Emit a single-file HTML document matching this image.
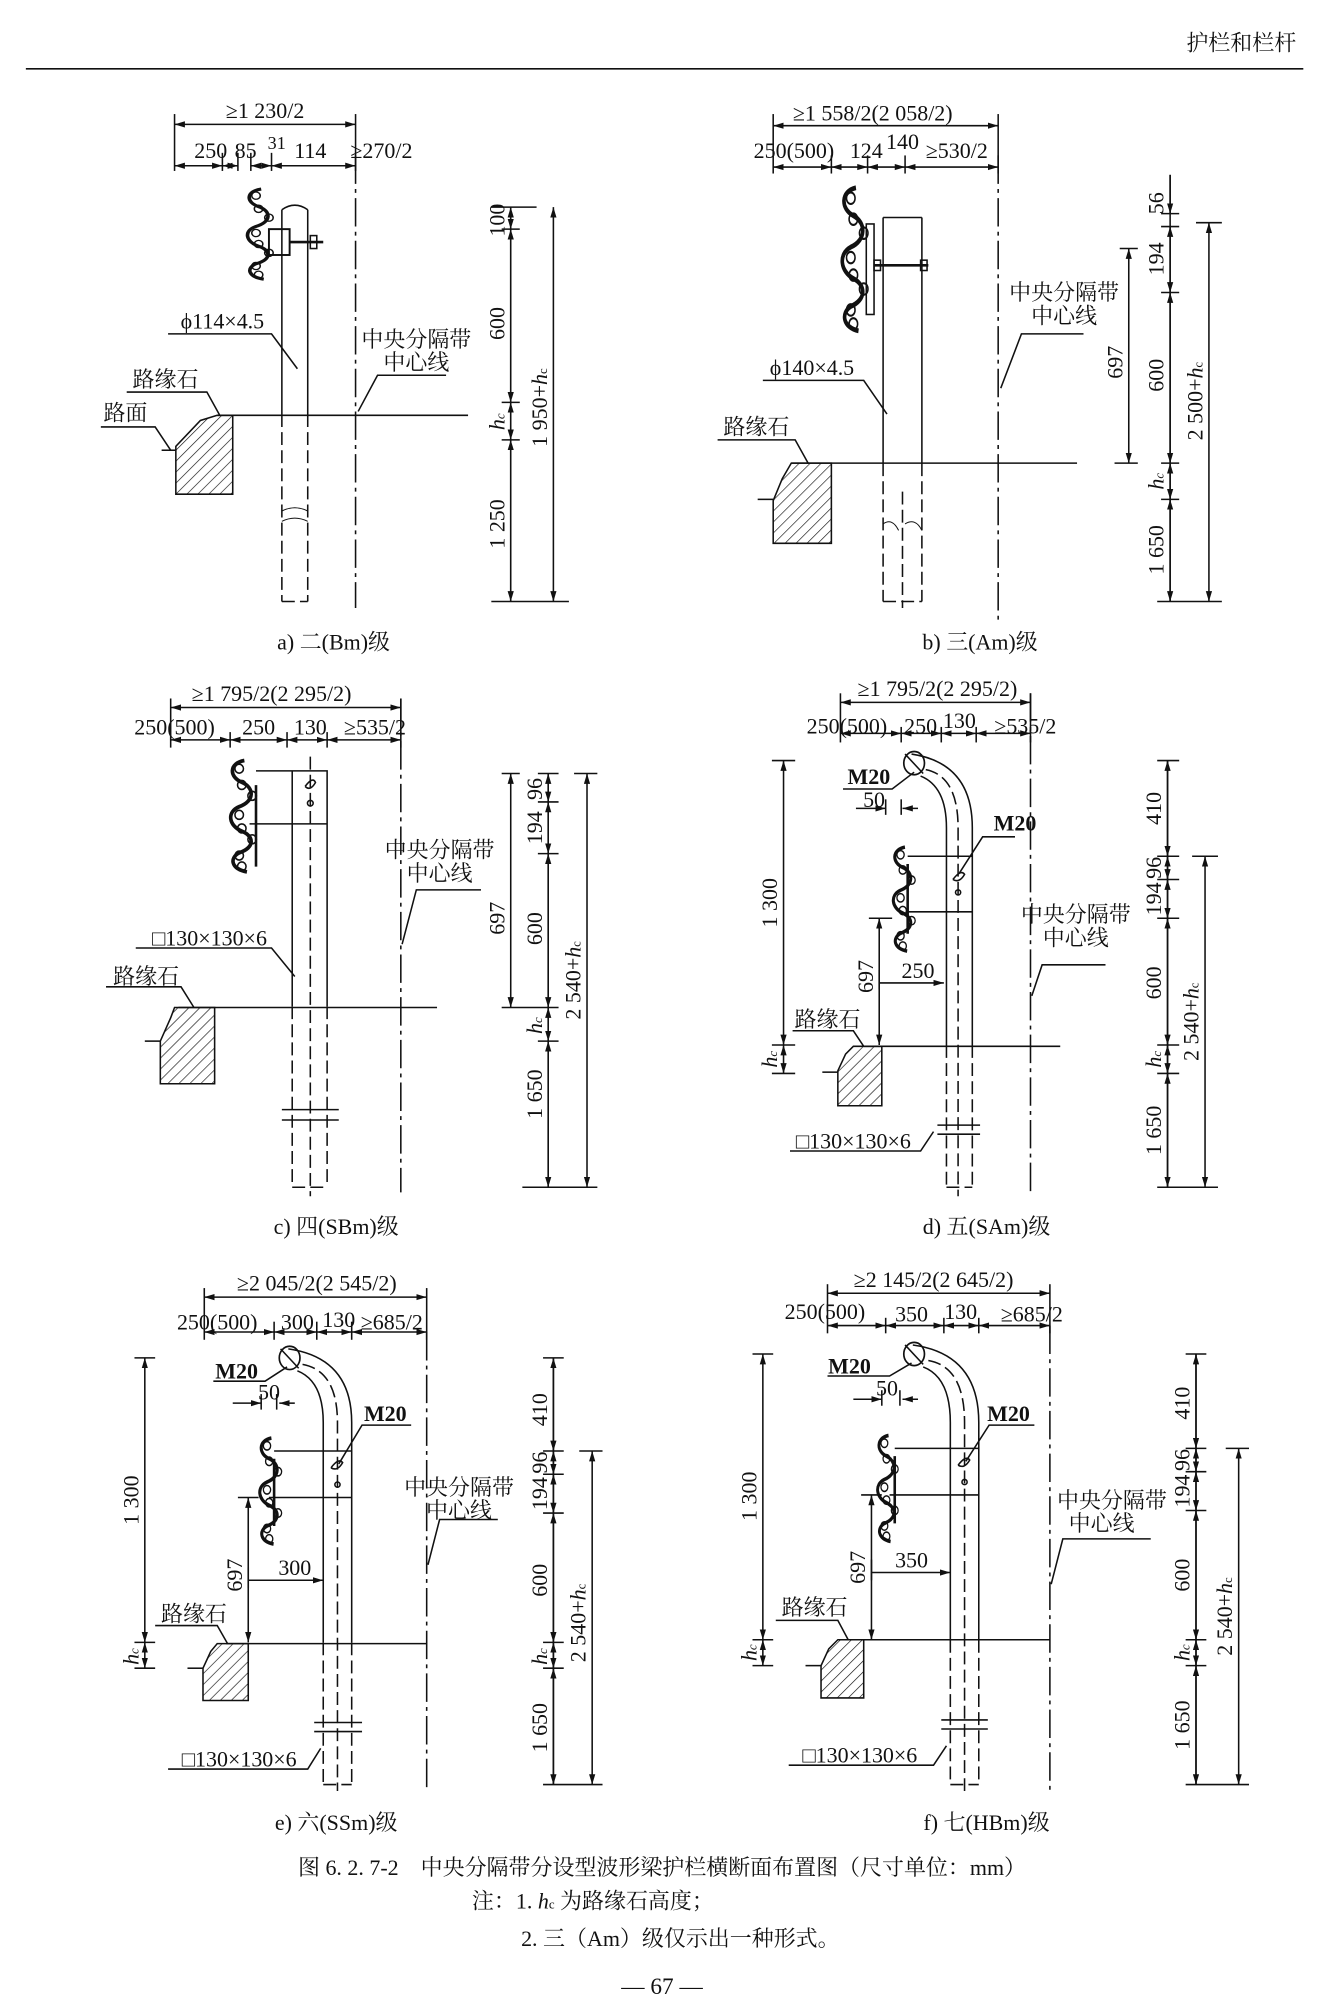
<!DOCTYPE html>
<html><head><meta charset="utf-8"><style>
html,body{margin:0;padding:0;background:#fff}
svg{display:block}
text{font-family:"Liberation Serif","Noto Serif CJK SC","Noto Sans CJK SC",serif;fill:#111}
g{stroke-width:1.2}
</style></head><body>
<svg width="1324" height="2015" viewBox="0 0 1024 1558" xmlns="http://www.w3.org/2000/svg">
<defs>
<marker id="ar" viewBox="0 0 10 6" refX="10" refY="3" markerWidth="8" markerHeight="5" orient="auto-start-reverse" markerUnits="userSpaceOnUse"><path d="M0,0 L10,3 L0,6 Z" fill="#111"/></marker>
<pattern id="hat" width="6" height="6" patternUnits="userSpaceOnUse" patternTransform="rotate(45)"><line x1="0" y1="0" x2="0" y2="6" stroke="#111" stroke-width="1"/></pattern>
<g id="beam">
<path d="M14,0 C2,2 2,12 12,16 C22,20 22,30 10,34 C0,38 2,48 12,52 C22,56 22,64 10,68 C2,72 4,80 16,82" fill="none" stroke="#111" stroke-width="2.8"/>
<circle cx="10" cy="6" r="3.3" fill="none" stroke="#111"/><circle cx="12" cy="18" r="3.3" fill="none" stroke="#111"/><circle cx="20" cy="26" r="3.3" fill="none" stroke="#111"/>
<circle cx="10" cy="40" r="3.3" fill="none" stroke="#111"/><circle cx="12" cy="50" r="3.3" fill="none" stroke="#111"/><circle cx="20" cy="58" r="3.3" fill="none" stroke="#111"/>
<circle cx="10" cy="70" r="3.3" fill="none" stroke="#111"/><circle cx="12" cy="78" r="3.3" fill="none" stroke="#111"/>
</g>
</defs>
<g stroke="#111" fill="none">
<line x1="20" y1="53" x2="1008" y2="53"/>
</g>
<text x="960" y="39" font-size="17" text-anchor="middle" fill="#333">护栏和栏杆</text>

<!-- ========== a ========== -->
<g stroke="#111" fill="none">
<line x1="135" y1="88" x2="135" y2="132"/><line x1="172" y1="118" x2="172" y2="132"/><line x1="184" y1="118" x2="184" y2="132"/><line x1="194" y1="118" x2="194" y2="132"/><line x1="210" y1="118" x2="210" y2="132"/><line x1="275" y1="88" x2="275" y2="132"/>
<line x1="135" y1="96" x2="275" y2="96" marker-start="url(#ar)" marker-end="url(#ar)"/>
<line x1="135" y1="128" x2="172" y2="128" marker-start="url(#ar)" marker-end="url(#ar)"/>
<line x1="172" y1="128" x2="184" y2="128" marker-start="url(#ar)" marker-end="url(#ar)"/>
<line x1="194" y1="128" x2="210" y2="128" marker-start="url(#ar)" marker-end="url(#ar)"/>
<line x1="210" y1="128" x2="275" y2="128" marker-start="url(#ar)" marker-end="url(#ar)"/>
<path d="M218,162 L218,320 M238,162 L238,320"/>
<path d="M218,162 Q228,155 238,162" />
<path d="M218,320 L218,465 M238,320 L238,465 M218,465 L238,465" stroke-dasharray="10,4"/>
<path d="M218,395 Q228,390 238,395 M218,403 Q228,398 238,403" stroke-width="0.8"/>
<line x1="275" y1="120" x2="275" y2="470" stroke-dasharray="22,4,3,4"/>
<line x1="168" y1="321" x2="362" y2="321"/>
<rect x="208" y="177" width="16" height="20" stroke-width="1.5"/>
<line x1="224" y1="187" x2="250" y2="187" stroke-width="2"/>
<rect x="240" y="182" width="5" height="10"/>
<path d="M168,321 L180,321 L180,382 L136,382 L136,345 L155,325 Z" fill="url(#hat)"/>
<line x1="125" y1="348" x2="136" y2="348"/>
<path d="M98,303 L160,303 L170,321"/>
<path d="M78,330 L120,330 L132,348"/>
<path d="M130,258 L210,258 L230,285"/>
<path d="M277,318 L292,290 L345,290"/>
<line x1="395" y1="160" x2="395" y2="465"/>
<line x1="380" y1="160" x2="415" y2="160"/><line x1="380" y1="465" x2="440" y2="465"/>
<line x1="388" y1="177" x2="402" y2="177"/><line x1="388" y1="311" x2="402" y2="311"/><line x1="388" y1="340" x2="402" y2="340"/>
<line x1="395" y1="160" x2="395" y2="177" marker-start="url(#ar)" marker-end="url(#ar)"/>
<line x1="395" y1="177" x2="395" y2="311" marker-start="url(#ar)" marker-end="url(#ar)"/>
<line x1="395" y1="311" x2="395" y2="340" marker-start="url(#ar)" marker-end="url(#ar)"/>
<line x1="395" y1="340" x2="395" y2="465" marker-start="url(#ar)" marker-end="url(#ar)"/>
<line x1="428" y1="160" x2="428" y2="465" marker-start="url(#ar)" marker-end="url(#ar)"/>
</g>
<use href="#beam" transform="translate(188,146) scale(1,0.85)"/>
<g font-size="17">
<text x="205" y="91" text-anchor="middle">≥1 230/2</text>
<text x="163" y="122" text-anchor="middle">250</text><text x="190" y="122" text-anchor="middle">85</text><text x="214" y="115" text-anchor="middle" font-size="14">31</text><text x="240" y="122" text-anchor="middle">114</text><text x="295" y="122" text-anchor="middle">≥270/2</text>
<text x="172" y="254" text-anchor="middle">ϕ114×4.5</text>
<text x="322" y="268" text-anchor="middle">中央分隔带</text><text x="322" y="286" text-anchor="middle">中心线</text>
<text x="128" y="299" text-anchor="middle">路缘石</text><text x="97" y="325" text-anchor="middle">路面</text>
<text transform="translate(390,170) rotate(-90)" text-anchor="middle">100</text>
<text transform="translate(390,250) rotate(-90)" text-anchor="middle">600</text>
<text transform="translate(390,326) rotate(-90)" text-anchor="middle" font-style="italic">h<tspan font-size="10">c</tspan></text>
<text transform="translate(390,405) rotate(-90)" text-anchor="middle">1 250</text>
<text transform="translate(423,315) rotate(-90)" text-anchor="middle">1 950+<tspan font-style="italic">h</tspan><tspan font-size="10">c</tspan></text>
<text x="258" y="502" text-anchor="middle">a) 二(Bm)级</text>
</g>

<!-- ========== b ========== -->
<g stroke="#111" fill="none">
<line x1="598" y1="88" x2="598" y2="134"/><line x1="643" y1="120" x2="643" y2="134"/><line x1="671" y1="120" x2="671" y2="134"/><line x1="700" y1="120" x2="700" y2="134"/><line x1="772" y1="88" x2="772" y2="134"/>
<line x1="598" y1="97" x2="772" y2="97" marker-start="url(#ar)" marker-end="url(#ar)"/>
<line x1="598" y1="129" x2="643" y2="129" marker-start="url(#ar)" marker-end="url(#ar)"/>
<line x1="643" y1="129" x2="671" y2="129" marker-start="url(#ar)" marker-end="url(#ar)"/>
<line x1="671" y1="129" x2="700" y2="129" marker-start="url(#ar)" marker-end="url(#ar)"/>
<line x1="700" y1="129" x2="772" y2="129" marker-start="url(#ar)" marker-end="url(#ar)"/>
<path d="M683,168 L683,358 M713,168 L713,358 M683,168 L713,168"/>
<path d="M683,358 L683,465 M713,358 L713,465 M683,465 L713,465" stroke-dasharray="10,4"/>
<line x1="698" y1="380" x2="698" y2="470" stroke-dasharray="10,4"/>
<path d="M683,405 Q690,400 695,410 M700,405 Q708,400 713,410" stroke-width="0.8"/>
<line x1="772" y1="120" x2="772" y2="480" stroke-dasharray="22,4,3,4"/>
<line x1="612" y1="358" x2="833" y2="358"/>
<rect x="670" y="173" width="6" height="70"/>
<line x1="676" y1="205" x2="718" y2="205" stroke-width="2"/><rect x="676" y="201" width="5" height="8"/><rect x="712" y="201" width="5" height="8"/>
<path d="M612,358 L643,358 L643,420 L598,420 L598,387 L605,370 Z" fill="url(#hat)"/>
<line x1="586" y1="386" x2="598" y2="386"/>
<path d="M555,340 L615,340 L625,358"/>
<path d="M590,294 L668,294 L686,320"/>
<path d="M774,300 L790,258 L838,258"/>
<line x1="873" y1="192" x2="873" y2="358" marker-start="url(#ar)" marker-end="url(#ar)"/>
<line x1="866" y1="192" x2="880" y2="192"/><line x1="862" y1="358" x2="880" y2="358"/>
<line x1="905" y1="135" x2="905" y2="465"/>
<line x1="905" y1="135" x2="905" y2="165" marker-end="url(#ar)"/>
<line x1="898" y1="165" x2="912" y2="165"/><line x1="898" y1="175" x2="912" y2="175"/><line x1="898" y1="226" x2="912" y2="226"/><line x1="898" y1="358" x2="912" y2="358"/><line x1="898" y1="386" x2="912" y2="386"/>
<line x1="905" y1="175" x2="905" y2="226" marker-start="url(#ar)" marker-end="url(#ar)"/>
<line x1="905" y1="226" x2="905" y2="358" marker-start="url(#ar)" marker-end="url(#ar)"/>
<line x1="905" y1="358" x2="905" y2="386" marker-start="url(#ar)" marker-end="url(#ar)"/>
<line x1="905" y1="386" x2="905" y2="465" marker-start="url(#ar)" marker-end="url(#ar)"/>
<line x1="935" y1="172" x2="935" y2="465" marker-start="url(#ar)" marker-end="url(#ar)"/>
<line x1="925" y1="172" x2="945" y2="172"/><line x1="895" y1="465" x2="945" y2="465"/>
</g>
<use href="#beam" transform="translate(648,145) scale(1,1.35)"/>
<g font-size="17">
<text x="675" y="93" text-anchor="middle">≥1 558/2(2 058/2)</text>
<text x="614" y="122" text-anchor="middle">250(500)</text><text x="670" y="122" text-anchor="middle">124</text><text x="698" y="115" text-anchor="middle">140</text><text x="740" y="122" text-anchor="middle">≥530/2</text>
<text x="628" y="290" text-anchor="middle">ϕ140×4.5</text>
<text x="823" y="232" text-anchor="middle">中央分隔带</text><text x="823" y="250" text-anchor="middle">中心线</text>
<text x="585" y="336" text-anchor="middle">路缘石</text>
<text transform="translate(868,280) rotate(-90)" text-anchor="middle">697</text>
<text transform="translate(900,157) rotate(-90)" text-anchor="middle">56</text>
<text transform="translate(900,200) rotate(-90)" text-anchor="middle">194</text>
<text transform="translate(900,290) rotate(-90)" text-anchor="middle">600</text>
<text transform="translate(900,372) rotate(-90)" text-anchor="middle" font-style="italic">h<tspan font-size="10">c</tspan></text>
<text transform="translate(900,425) rotate(-90)" text-anchor="middle">1 650</text>
<text transform="translate(930,310) rotate(-90)" text-anchor="middle">2 500+<tspan font-style="italic">h</tspan><tspan font-size="10">c</tspan></text>
<text x="758" y="502" text-anchor="middle">b) 三(Am)级</text>
</g>

<!-- ========== c ========== -->
<g stroke="#111" fill="none">
<line x1="132" y1="540" x2="132" y2="578"/><line x1="178" y1="566" x2="178" y2="578"/><line x1="222" y1="566" x2="222" y2="578"/><line x1="253" y1="566" x2="253" y2="578"/><line x1="310" y1="540" x2="310" y2="578"/>
<line x1="132" y1="547" x2="310" y2="547" marker-start="url(#ar)" marker-end="url(#ar)"/>
<line x1="132" y1="572" x2="178" y2="572" marker-start="url(#ar)" marker-end="url(#ar)"/>
<line x1="178" y1="572" x2="222" y2="572" marker-start="url(#ar)" marker-end="url(#ar)"/>
<line x1="222" y1="572" x2="253" y2="572" marker-start="url(#ar)" marker-end="url(#ar)"/>
<line x1="253" y1="572" x2="310" y2="572" marker-start="url(#ar)" marker-end="url(#ar)"/>
<path d="M198,596 L253,596 L253,778 M193,637 L253,637 M226,596 L226,778"/>
<path d="M226,778 L226,918 M253,778 L253,918 M226,918 L253,918" stroke-dasharray="10,4"/>
<line x1="240" y1="585" x2="240" y2="925" stroke-dasharray="10,4"/>
<line x1="218" y1="858" x2="262" y2="858"/><line x1="218" y1="866" x2="262" y2="866"/>
<path d="M236,608 Q242,600 244,605 Q240,612 236,608"/><circle cx="240" cy="621" r="2.2"/>
<line x1="310" y1="540" x2="310" y2="922" stroke-dasharray="22,4,3,4"/>
<line x1="138" y1="779" x2="338" y2="779"/>
<path d="M135,779 L166,779 L166,838 L124,838 L124,805 L132,787 Z" fill="url(#hat)"/>
<line x1="112" y1="805" x2="124" y2="805"/>
<path d="M82,763 L140,763 L150,779"/>
<path d="M105,733 L210,733 L228,755"/>
<path d="M311,730 L322,688 L372,688"/>
<line x1="395" y1="598" x2="395" y2="779" marker-start="url(#ar)" marker-end="url(#ar)"/>
<line x1="388" y1="598" x2="402" y2="598"/>
<line x1="424" y1="598" x2="424" y2="918"/>
<line x1="416" y1="598" x2="432" y2="598"/><line x1="416" y1="620" x2="432" y2="620"/><line x1="416" y1="660" x2="432" y2="660"/><line x1="388" y1="779" x2="432" y2="779"/><line x1="416" y1="805" x2="432" y2="805"/>
<line x1="424" y1="598" x2="424" y2="620" marker-start="url(#ar)" marker-end="url(#ar)"/>
<line x1="424" y1="620" x2="424" y2="660" marker-start="url(#ar)" marker-end="url(#ar)"/>
<line x1="424" y1="660" x2="424" y2="779" marker-start="url(#ar)" marker-end="url(#ar)"/>
<line x1="424" y1="779" x2="424" y2="805" marker-start="url(#ar)" marker-end="url(#ar)"/>
<line x1="424" y1="805" x2="424" y2="918" marker-start="url(#ar)" marker-end="url(#ar)"/>
<line x1="454" y1="598" x2="454" y2="918" marker-start="url(#ar)" marker-end="url(#ar)"/>
<line x1="444" y1="598" x2="462" y2="598"/><line x1="404" y1="918" x2="462" y2="918"/>
<line x1="198" y1="607" x2="198" y2="670" stroke-width="2"/>
</g>
<use href="#beam" transform="translate(175,588) scale(1,1.05)"/>
<g font-size="17">
<text x="210" y="542" text-anchor="middle">≥1 795/2(2 295/2)</text>
<text x="135" y="568" text-anchor="middle">250(500)</text><text x="200" y="568" text-anchor="middle">250</text><text x="240" y="568" text-anchor="middle">130</text><text x="290" y="568" text-anchor="middle">≥535/2</text>
<text x="162" y="731" text-anchor="middle">□130×130×6</text>
<text x="113" y="761" text-anchor="middle">路缘石</text>
<text x="340" y="663" text-anchor="middle">中央分隔带</text><text x="340" y="681" text-anchor="middle">中心线</text>
<text transform="translate(390,710) rotate(-90)" text-anchor="middle">697</text>
<text transform="translate(419,610) rotate(-90)" text-anchor="middle">96</text>
<text transform="translate(419,640) rotate(-90)" text-anchor="middle">194</text>
<text transform="translate(419,718) rotate(-90)" text-anchor="middle">600</text>
<text transform="translate(419,793) rotate(-90)" text-anchor="middle" font-style="italic">h<tspan font-size="10">c</tspan></text>
<text transform="translate(419,846) rotate(-90)" text-anchor="middle">1 650</text>
<text transform="translate(449,758) rotate(-90)" text-anchor="middle">2 540+<tspan font-style="italic">h</tspan><tspan font-size="10">c</tspan></text>
<text x="260" y="954" text-anchor="middle">c) 四(SBm)级</text>
</g>

<!-- ========== d ========== -->
<g stroke="#111" fill="none">
<line x1="650" y1="536" x2="650" y2="574"/><line x1="697" y1="562" x2="697" y2="574"/><line x1="728" y1="562" x2="728" y2="574"/><line x1="755" y1="562" x2="755" y2="574"/><line x1="797" y1="536" x2="797" y2="574"/>
<line x1="650" y1="543" x2="797" y2="543" marker-start="url(#ar)" marker-end="url(#ar)"/>
<line x1="650" y1="567" x2="697" y2="567" marker-start="url(#ar)" marker-end="url(#ar)"/>
<line x1="697" y1="567" x2="728" y2="567" marker-start="url(#ar)" marker-end="url(#ar)"/>
<line x1="728" y1="567" x2="755" y2="567" marker-start="url(#ar)" marker-end="url(#ar)"/>
<line x1="755" y1="567" x2="797" y2="567" marker-start="url(#ar)" marker-end="url(#ar)"/>
<path d="M705,583 Q752,590 752,640 L752,808 M712,600 Q732,608 732,640 L732,808"/>
<path d="M716,595 Q741,600 741,640 L741,925" stroke-dasharray="10,4"/>
<ellipse cx="707" cy="590" rx="8" ry="9" stroke-width="1.3"/><line x1="700" y1="583" x2="714" y2="598"/>
<path d="M702,662 L752,662 M702,705 L752,705"/>
<path d="M732,808 L732,918 M752,808 L752,918 M732,918 L752,918" stroke-dasharray="10,4"/>
<line x1="725" y1="870" x2="758" y2="870"/><line x1="725" y1="877" x2="758" y2="877"/>
<path d="M737,680 Q743,672 746,676 Q742,683 737,680"/><circle cx="741" cy="690" r="2"/>
<line x1="797" y1="536" x2="797" y2="925" stroke-dasharray="22,4,3,4"/>
<line x1="668" y1="809" x2="820" y2="809"/>
<path d="M660,809 L682,809 L682,855 L648,855 L648,828 L654,815 Z" fill="url(#hat)"/>
<line x1="636" y1="829" x2="648" y2="829"/>
<path d="M613,797 L660,797 L668,809"/>
<path d="M652,610 L690,610 L707,597"/>
<line x1="662" y1="625" x2="685" y2="625" marker-end="url(#ar)"/><line x1="710" y1="625" x2="698" y2="625" marker-end="url(#ar)"/>
<line x1="685" y1="618" x2="685" y2="630"/><line x1="697" y1="618" x2="697" y2="630"/>
<path d="M742,675 L760,647 L785,647"/>
<path d="M798,770 L806,746 L855,746"/>
<line x1="680" y1="710" x2="680" y2="808" marker-start="url(#ar)" marker-end="url(#ar)"/><line x1="672" y1="710" x2="690" y2="710"/>
<line x1="680" y1="760" x2="730" y2="760" marker-end="url(#ar)"/><line x1="680" y1="750" x2="680" y2="765"/>
<line x1="606" y1="588" x2="606" y2="808" marker-start="url(#ar)" marker-end="url(#ar)"/>
<line x1="597" y1="588" x2="615" y2="588"/><line x1="597" y1="808" x2="615" y2="808"/><line x1="597" y1="830" x2="615" y2="830"/>
<line x1="606" y1="808" x2="606" y2="830" marker-start="url(#ar)" marker-end="url(#ar)"/>
<line x1="903" y1="588" x2="903" y2="918"/>
<line x1="895" y1="588" x2="912" y2="588"/><line x1="895" y1="662" x2="912" y2="662"/><line x1="895" y1="680" x2="912" y2="680"/><line x1="895" y1="710" x2="912" y2="710"/><line x1="895" y1="808" x2="912" y2="808"/><line x1="895" y1="830" x2="912" y2="830"/>
<line x1="903" y1="588" x2="903" y2="662" marker-start="url(#ar)" marker-end="url(#ar)"/>
<line x1="903" y1="662" x2="903" y2="680" marker-start="url(#ar)" marker-end="url(#ar)"/>
<line x1="903" y1="680" x2="903" y2="710" marker-start="url(#ar)" marker-end="url(#ar)"/>
<line x1="903" y1="710" x2="903" y2="808" marker-start="url(#ar)" marker-end="url(#ar)"/>
<line x1="903" y1="808" x2="903" y2="830" marker-start="url(#ar)" marker-end="url(#ar)"/>
<line x1="903" y1="830" x2="903" y2="918" marker-start="url(#ar)" marker-end="url(#ar)"/>
<line x1="932" y1="662" x2="932" y2="918" marker-start="url(#ar)" marker-end="url(#ar)"/>
<line x1="922" y1="662" x2="942" y2="662"/><line x1="895" y1="918" x2="942" y2="918"/>
<line x1="702" y1="668" x2="702" y2="722" stroke-width="2"/>
<path d="M611,890 L712,890 L722,875"/>
</g>
<use href="#beam" transform="translate(688,655) scale(0.85,0.98)"/>
<g font-size="17">
<text x="725" y="538" text-anchor="middle">≥1 795/2(2 295/2)</text>
<text x="655" y="567" text-anchor="middle">250(500)</text><text x="712" y="567" text-anchor="middle">250</text><text x="742" y="563" text-anchor="middle">130</text><text x="793" y="567" text-anchor="middle">≥535/2</text>
<text x="672" y="606" text-anchor="middle" font-weight="bold">M20</text>
<text x="676" y="624" text-anchor="middle">50</text>
<text x="785" y="642" text-anchor="middle" font-weight="bold">M20</text>
<text x="710" y="756" text-anchor="middle">250</text>
<text x="640" y="794" text-anchor="middle">路缘石</text>
<text x="660" y="888" text-anchor="middle">□130×130×6</text>
<text x="832" y="713" text-anchor="middle">中央分隔带</text><text x="832" y="731" text-anchor="middle">中心线</text>
<text transform="translate(675,755) rotate(-90)" text-anchor="middle">697</text>
<text transform="translate(601,698) rotate(-90)" text-anchor="middle">1 300</text>
<text transform="translate(601,819) rotate(-90)" text-anchor="middle" font-style="italic">h<tspan font-size="10">c</tspan></text>
<text transform="translate(898,625) rotate(-90)" text-anchor="middle">410</text>
<text transform="translate(898,671) rotate(-90)" text-anchor="middle">96</text>
<text transform="translate(898,695) rotate(-90)" text-anchor="middle">194</text>
<text transform="translate(898,760) rotate(-90)" text-anchor="middle">600</text>
<text transform="translate(898,819) rotate(-90)" text-anchor="middle" font-style="italic">h<tspan font-size="10">c</tspan></text>
<text transform="translate(898,874) rotate(-90)" text-anchor="middle">1 650</text>
<text transform="translate(927,790) rotate(-90)" text-anchor="middle">2 540+<tspan font-style="italic">h</tspan><tspan font-size="10">c</tspan></text>
<text x="763" y="954" text-anchor="middle">d) 五(SAm)级</text>
</g>

<!-- ========== e ========== -->
<g stroke="#111" fill="none">
<line x1="158" y1="996" x2="158" y2="1036"/><line x1="212" y1="1022" x2="212" y2="1036"/><line x1="245" y1="1022" x2="245" y2="1036"/><line x1="272" y1="1022" x2="272" y2="1036"/><line x1="330" y1="996" x2="330" y2="1036"/>
<line x1="158" y1="1003" x2="330" y2="1003" marker-start="url(#ar)" marker-end="url(#ar)"/>
<line x1="158" y1="1030" x2="212" y2="1030" marker-start="url(#ar)" marker-end="url(#ar)"/>
<line x1="212" y1="1030" x2="245" y2="1030" marker-start="url(#ar)" marker-end="url(#ar)"/>
<line x1="245" y1="1030" x2="272" y2="1030" marker-start="url(#ar)" marker-end="url(#ar)"/>
<line x1="272" y1="1030" x2="330" y2="1030" marker-start="url(#ar)" marker-end="url(#ar)"/>
<path d="M223,1043 Q272,1050 272,1100 L272,1270 M230,1060 Q250,1068 250,1100 L250,1270"/>
<path d="M234,1055 Q261,1060 261,1100 L261,1385" stroke-dasharray="10,4"/>
<ellipse cx="224" cy="1050" rx="8" ry="9" stroke-width="1.3"/><line x1="217" y1="1043" x2="231" y2="1058"/>
<path d="M212,1122 L272,1122 M208,1158 L272,1158"/>
<path d="M250,1270 L250,1380 M272,1270 L272,1380 M250,1380 L272,1380" stroke-dasharray="10,4"/>
<line x1="243" y1="1332" x2="280" y2="1332"/><line x1="243" y1="1339" x2="280" y2="1339"/>
<path d="M256,1135 Q262,1127 265,1131 Q261,1138 256,1135"/><circle cx="261" cy="1148" r="2"/>
<line x1="330" y1="1030" x2="330" y2="1385" stroke-dasharray="22,4,3,4"/>
<line x1="175" y1="1271" x2="330" y2="1271"/>
<path d="M168,1271 L192,1271 L192,1315 L157,1315 L157,1290 L163,1277 Z" fill="url(#hat)"/>
<line x1="145" y1="1290" x2="157" y2="1290"/>
<path d="M120,1257 L168,1257 L176,1271"/>
<path d="M165,1068 L205,1068 L222,1057"/>
<line x1="180" y1="1085" x2="202" y2="1085" marker-end="url(#ar)"/><line x1="228" y1="1085" x2="216" y2="1085" marker-end="url(#ar)"/>
<line x1="202" y1="1078" x2="202" y2="1090"/><line x1="214" y1="1078" x2="214" y2="1090"/>
<path d="M262,1132 L280,1102 L318,1102"/>
<path d="M331,1210 L340,1175 L385,1175"/>
<line x1="192" y1="1158" x2="192" y2="1270" marker-start="url(#ar)" marker-end="url(#ar)"/><line x1="184" y1="1158" x2="200" y2="1158"/>
<line x1="192" y1="1222" x2="250" y2="1222" marker-end="url(#ar)"/><line x1="192" y1="1212" x2="192" y2="1228"/>
<line x1="112" y1="1050" x2="112" y2="1270" marker-start="url(#ar)" marker-end="url(#ar)"/>
<line x1="104" y1="1050" x2="120" y2="1050"/><line x1="104" y1="1270" x2="120" y2="1270"/><line x1="104" y1="1290" x2="120" y2="1290"/>
<line x1="112" y1="1270" x2="112" y2="1290" marker-start="url(#ar)" marker-end="url(#ar)"/>
<line x1="428" y1="1050" x2="428" y2="1380"/>
<line x1="420" y1="1050" x2="436" y2="1050"/><line x1="420" y1="1122" x2="436" y2="1122"/><line x1="420" y1="1140" x2="436" y2="1140"/><line x1="420" y1="1170" x2="436" y2="1170"/><line x1="420" y1="1270" x2="436" y2="1270"/><line x1="420" y1="1290" x2="436" y2="1290"/>
<line x1="428" y1="1050" x2="428" y2="1122" marker-start="url(#ar)" marker-end="url(#ar)"/>
<line x1="428" y1="1122" x2="428" y2="1140" marker-start="url(#ar)" marker-end="url(#ar)"/>
<line x1="428" y1="1140" x2="428" y2="1170" marker-start="url(#ar)" marker-end="url(#ar)"/>
<line x1="428" y1="1170" x2="428" y2="1270" marker-start="url(#ar)" marker-end="url(#ar)"/>
<line x1="428" y1="1270" x2="428" y2="1290" marker-start="url(#ar)" marker-end="url(#ar)"/>
<line x1="428" y1="1290" x2="428" y2="1380" marker-start="url(#ar)" marker-end="url(#ar)"/>
<line x1="458" y1="1122" x2="458" y2="1380" marker-start="url(#ar)" marker-end="url(#ar)"/>
<line x1="448" y1="1122" x2="466" y2="1122"/><line x1="420" y1="1380" x2="466" y2="1380"/>
<line x1="212" y1="1128" x2="212" y2="1180" stroke-width="2"/>
<path d="M130,1368 L238,1368 L248,1352"/>
</g>
<use href="#beam" transform="translate(198,1112) scale(0.85,1.0)"/>
<g font-size="17">
<text x="245" y="998" text-anchor="middle">≥2 045/2(2 545/2)</text>
<text x="168" y="1028" text-anchor="middle">250(500)</text><text x="230" y="1028" text-anchor="middle">300</text><text x="262" y="1026" text-anchor="middle">130</text><text x="303" y="1028" text-anchor="middle">≥685/2</text>
<text x="183" y="1066" text-anchor="middle" font-weight="bold">M20</text>
<text x="208" y="1082" text-anchor="middle">50</text>
<text x="298" y="1099" text-anchor="middle" font-weight="bold">M20</text>
<text x="228" y="1218" text-anchor="middle">300</text>
<text x="150" y="1254" text-anchor="middle">路缘石</text>
<text x="185" y="1366" text-anchor="middle">□130×130×6</text>
<text x="355" y="1156" text-anchor="middle">中央分隔带</text><text x="355" y="1174" text-anchor="middle">中心线</text>
<text transform="translate(187,1218) rotate(-90)" text-anchor="middle">697</text>
<text transform="translate(107,1160) rotate(-90)" text-anchor="middle">1 300</text>
<text transform="translate(107,1281) rotate(-90)" text-anchor="middle" font-style="italic">h<tspan font-size="10">c</tspan></text>
<text transform="translate(423,1090) rotate(-90)" text-anchor="middle">410</text>
<text transform="translate(423,1131) rotate(-90)" text-anchor="middle">96</text>
<text transform="translate(423,1155) rotate(-90)" text-anchor="middle">194</text>
<text transform="translate(423,1222) rotate(-90)" text-anchor="middle">600</text>
<text transform="translate(423,1281) rotate(-90)" text-anchor="middle" font-style="italic">h<tspan font-size="10">c</tspan></text>
<text transform="translate(423,1336) rotate(-90)" text-anchor="middle">1 650</text>
<text transform="translate(453,1255) rotate(-90)" text-anchor="middle">2 540+<tspan font-style="italic">h</tspan><tspan font-size="10">c</tspan></text>
<text x="260" y="1415" text-anchor="middle">e) 六(SSm)级</text>
</g>

<!-- ========== f ========== -->
<g stroke="#111" fill="none">
<line x1="640" y1="993" x2="640" y2="1031"/><line x1="685" y1="1019" x2="685" y2="1031"/><line x1="730" y1="1019" x2="730" y2="1031"/><line x1="757" y1="1019" x2="757" y2="1031"/><line x1="812" y1="993" x2="812" y2="1031"/>
<line x1="640" y1="1000" x2="812" y2="1000" marker-start="url(#ar)" marker-end="url(#ar)"/>
<line x1="640" y1="1025" x2="685" y2="1025" marker-start="url(#ar)" marker-end="url(#ar)"/>
<line x1="685" y1="1025" x2="730" y2="1025" marker-start="url(#ar)" marker-end="url(#ar)"/>
<line x1="730" y1="1025" x2="757" y2="1025" marker-start="url(#ar)" marker-end="url(#ar)"/>
<line x1="757" y1="1025" x2="812" y2="1025" marker-start="url(#ar)" marker-end="url(#ar)"/>
<path d="M706,1040 Q757,1047 757,1100 L757,1268 M714,1057 Q735,1065 735,1100 L735,1268"/>
<path d="M718,1052 Q746,1057 746,1100 L746,1385" stroke-dasharray="10,4"/>
<ellipse cx="707" cy="1047" rx="8" ry="9" stroke-width="1.3"/><line x1="700" y1="1040" x2="714" y2="1055"/>
<path d="M692,1120 L757,1120 M688,1156 L757,1156"/>
<path d="M735,1268 L735,1380 M757,1268 L757,1380 M735,1380 L757,1380" stroke-dasharray="10,4"/>
<line x1="728" y1="1330" x2="764" y2="1330"/><line x1="728" y1="1337" x2="764" y2="1337"/>
<path d="M741,1133 Q747,1125 750,1129 Q746,1136 741,1133"/><circle cx="746" cy="1146" r="2"/>
<line x1="812" y1="1025" x2="812" y2="1385" stroke-dasharray="22,4,3,4"/>
<line x1="655" y1="1268" x2="812" y2="1268"/>
<path d="M648,1268 L668,1268 L668,1313 L635,1313 L635,1288 L641,1275 Z" fill="url(#hat)"/>
<line x1="623" y1="1288" x2="635" y2="1288"/>
<path d="M600,1253 L648,1253 L656,1268"/>
<path d="M640,1064 L688,1064 L705,1054"/>
<line x1="660" y1="1082" x2="682" y2="1082" marker-end="url(#ar)"/><line x1="710" y1="1082" x2="698" y2="1082" marker-end="url(#ar)"/>
<line x1="682" y1="1075" x2="682" y2="1087"/><line x1="696" y1="1075" x2="696" y2="1087"/>
<path d="M747,1130 L765,1102 L800,1102"/>
<path d="M813,1225 L822,1190 L890,1190"/>
<line x1="674" y1="1156" x2="674" y2="1268" marker-start="url(#ar)" marker-end="url(#ar)"/><line x1="666" y1="1156" x2="682" y2="1156"/>
<line x1="674" y1="1216" x2="735" y2="1216" marker-end="url(#ar)"/><line x1="674" y1="1206" x2="674" y2="1222"/>
<line x1="590" y1="1047" x2="590" y2="1268" marker-start="url(#ar)" marker-end="url(#ar)"/>
<line x1="582" y1="1047" x2="598" y2="1047"/><line x1="582" y1="1268" x2="598" y2="1268"/><line x1="582" y1="1288" x2="598" y2="1288"/>
<line x1="590" y1="1268" x2="590" y2="1288" marker-start="url(#ar)" marker-end="url(#ar)"/>
<line x1="925" y1="1047" x2="925" y2="1380"/>
<line x1="917" y1="1047" x2="933" y2="1047"/><line x1="917" y1="1120" x2="933" y2="1120"/><line x1="917" y1="1138" x2="933" y2="1138"/><line x1="917" y1="1168" x2="933" y2="1168"/><line x1="917" y1="1268" x2="933" y2="1268"/><line x1="917" y1="1288" x2="933" y2="1288"/>
<line x1="925" y1="1047" x2="925" y2="1120" marker-start="url(#ar)" marker-end="url(#ar)"/>
<line x1="925" y1="1120" x2="925" y2="1138" marker-start="url(#ar)" marker-end="url(#ar)"/>
<line x1="925" y1="1138" x2="925" y2="1168" marker-start="url(#ar)" marker-end="url(#ar)"/>
<line x1="925" y1="1168" x2="925" y2="1268" marker-start="url(#ar)" marker-end="url(#ar)"/>
<line x1="925" y1="1268" x2="925" y2="1288" marker-start="url(#ar)" marker-end="url(#ar)"/>
<line x1="925" y1="1288" x2="925" y2="1380" marker-start="url(#ar)" marker-end="url(#ar)"/>
<line x1="958" y1="1120" x2="958" y2="1380" marker-start="url(#ar)" marker-end="url(#ar)"/>
<line x1="948" y1="1120" x2="966" y2="1120"/><line x1="917" y1="1380" x2="966" y2="1380"/>
<line x1="692" y1="1126" x2="692" y2="1178" stroke-width="2"/>
<path d="M610,1365 L722,1365 L732,1350"/>
</g>
<use href="#beam" transform="translate(676,1110) scale(0.8,1.0)"/>
<g font-size="17">
<text x="722" y="995" text-anchor="middle">≥2 145/2(2 645/2)</text>
<text x="638" y="1020" text-anchor="middle">250(500)</text><text x="705" y="1022" text-anchor="middle">350</text><text x="743" y="1020" text-anchor="middle">130</text><text x="798" y="1022" text-anchor="middle">≥685/2</text>
<text x="657" y="1062" text-anchor="middle" font-weight="bold">M20</text>
<text x="686" y="1079" text-anchor="middle">50</text>
<text x="780" y="1099" text-anchor="middle" font-weight="bold">M20</text>
<text x="705" y="1212" text-anchor="middle">350</text>
<text x="630" y="1249" text-anchor="middle">路缘石</text>
<text x="665" y="1363" text-anchor="middle">□130×130×6</text>
<text x="860" y="1166" text-anchor="middle">中央分隔带</text><text x="852" y="1184" text-anchor="middle">中心线</text>
<text transform="translate(669,1212) rotate(-90)" text-anchor="middle">697</text>
<text transform="translate(585,1157) rotate(-90)" text-anchor="middle">1 300</text>
<text transform="translate(585,1278) rotate(-90)" text-anchor="middle" font-style="italic">h<tspan font-size="10">c</tspan></text>
<text transform="translate(920,1085) rotate(-90)" text-anchor="middle">410</text>
<text transform="translate(920,1129) rotate(-90)" text-anchor="middle">96</text>
<text transform="translate(920,1153) rotate(-90)" text-anchor="middle">194</text>
<text transform="translate(920,1218) rotate(-90)" text-anchor="middle">600</text>
<text transform="translate(920,1278) rotate(-90)" text-anchor="middle" font-style="italic">h<tspan font-size="10">c</tspan></text>
<text transform="translate(920,1334) rotate(-90)" text-anchor="middle">1 650</text>
<text transform="translate(953,1250) rotate(-90)" text-anchor="middle">2 540+<tspan font-style="italic">h</tspan><tspan font-size="10">c</tspan></text>
<text x="763" y="1415" text-anchor="middle">f) 七(HBm)级</text>
</g>

<!-- footer -->
<g font-size="17">
<text x="512" y="1450" text-anchor="middle">图 6. 2. 7-2　中央分隔带分设型波形梁护栏横断面布置图（尺寸单位：mm）</text>
<text x="365" y="1476">注：1. <tspan font-style="italic">h</tspan><tspan font-size="10">c</tspan> 为路缘石高度；</text>
<text x="403" y="1505">2. 三（Am）级仅示出一种形式。</text>
<text x="512" y="1542" text-anchor="middle" font-size="18">— 67 —</text>
</g>
</svg>
</body></html>
